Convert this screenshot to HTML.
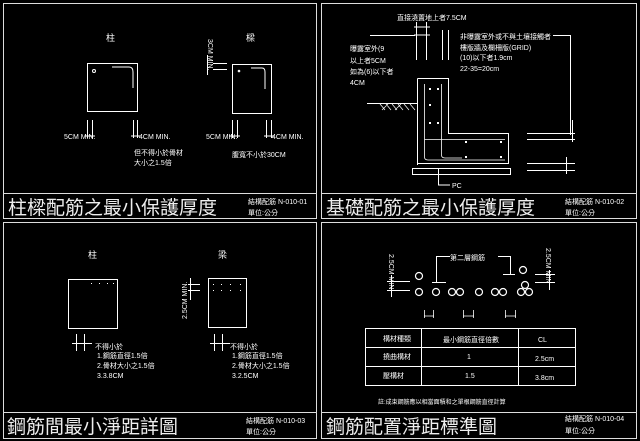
<!DOCTYPE html>
<html><head><meta charset="utf-8"><style>
html,body{margin:0;padding:0;background:#000;width:640px;height:441px;overflow:hidden}
svg{display:block}
text{fill:#fff;font-family:"Liberation Sans","Noto Sans CJK TC",sans-serif}
.t{font-size:19px;fill:#eee}
.s{font-size:7px}
.m{font-size:9px}
</style></head><body>
<svg width="640" height="441" viewBox="0 0 640 441" xmlns="http://www.w3.org/2000/svg">
<g fill="none" stroke="#ddd" stroke-width="1">
<rect x="3.5" y="3.5" width="313" height="215"/>
<rect x="321.5" y="3.5" width="315" height="215"/>
<rect x="3.5" y="222.5" width="313" height="216"/>
<rect x="321.5" y="222.5" width="315" height="216"/>
<line x1="4" y1="193.5" x2="316" y2="193.5"/>
<line x1="322" y1="193.5" x2="636" y2="193.5"/>
<line x1="4" y1="412.5" x2="316" y2="412.5"/>
<line x1="322" y1="412.5" x2="636" y2="412.5"/>
</g>
<g fill="none" stroke="#fff" stroke-width="1">
<rect x="87.5" y="63.5" width="50" height="48"/>
<path d="M112 67 H129 Q133 67 133 72 V88"/>
<circle cx="94" cy="71" r="1.5"/>
<path d="M87.5 120V138M92.5 120V138M133.5 120V138M137.5 120V138M85 136H95M131 136H140"/>
<rect x="232.5" y="64.5" width="39" height="49"/>
<path d="M251 68 H262 Q265 68 265 72 V89"/>
<circle cx="239" cy="71" r="0.8"/>
<path d="M213 63.5H227M213 69.5H227M207.5 55V75M232.5 120V138M237.5 120V138M266.5 120V138M271.5 120V138M229 136H240M264 136H274"/>
<path d="M417.5 78.5V165M417.5 78.5H448.5V133.5H508.5V163.5H417.5"/>
<rect x="412.5" y="168.5" width="98" height="6"/>
<path d="M438.5 168V185H450"/>
<path d="M367 103.5H417"/>
<path d="M380 104l5 6M386 104l5 6M392 104l5 6M398 104l5 6M404 104l5 6M410 104l5 6M382 110l6-6M395 110l6-6" stroke-width="0.7"/>
<path d="M424.5 84V157Q424.5 160 428 160H505M441.5 84V155Q441.5 158 445 158H462M424.5 139.5H505" stroke-width="0.8"/>
<path d="M370 35.5H415M416.5 22V60M426.5 22V60M442.5 30V60M448.5 30V60M553 35.5H570.5V135M414 27H430M414 35H430"/>
<path d="M527 133.5H575M527 139.5H575M572.5 120V142M527 163.5H575M527 170.5H575M566.5 157V174"/>
<rect x="68.5" y="279.5" width="49" height="49"/>
<path d="M76.5 334V351M84.5 334V351M72 343.5H92"/>
<rect x="208.5" y="278.5" width="38" height="49"/>
<path d="M188 284.5H200M188 290.5H200M190.5 278V300M214.5 334V351M222.5 334V351M210 343.5H230"/>
<path d="M436.5 282V256.5H450M498 256.5H510.5V274M432 282.5H446M503 274.5H515"/>
<path d="M387 281.5H410M387 290.5H410M391.5 275V297M535 274.5H555M535 282.5H555M549.5 270V290"/>
<path d="M424.5 310V318M433.5 310V318M424 316H434M463.5 310V318M473.5 310V318M463 316H474M505.5 310V318M515.5 310V318M505 316H516" stroke-width="0.8"/>
<rect x="365.5" y="328.5" width="210" height="57"/>
<path d="M421.5 328V386M518.5 328V386M366 347.5H575M366 366.5H575"/>
</g>
<g fill="#fff" stroke="none">
<rect x="91" y="283" width="1" height="1"/><rect x="99" y="283" width="1" height="1"/><rect x="107" y="283" width="1" height="1"/><rect x="113" y="283" width="1" height="1"/>
<rect x="213" y="284" width="1" height="1"/><rect x="221" y="284" width="1" height="1"/><rect x="230" y="284" width="1" height="1"/><rect x="240" y="284" width="1" height="1"/>
<rect x="213" y="290" width="1" height="1"/><rect x="221" y="290" width="1" height="1"/><rect x="230" y="290" width="1" height="1"/><rect x="240" y="290" width="1" height="1"/>
<rect x="429" y="88" width="2" height="2"/><rect x="429" y="104" width="2" height="2"/><rect x="429" y="122" width="2" height="2"/><rect x="437" y="88" width="2" height="2"/><rect x="437" y="122" width="2" height="2"/>
<rect x="465" y="141" width="2" height="2"/><rect x="500" y="141" width="2" height="2"/><rect x="465" y="156" width="2" height="2"/><rect x="500" y="156" width="2" height="2"/>
</g>
<g fill="none" stroke="#fff" stroke-width="1.2">
<circle cx="419" cy="276" r="3.5"/><circle cx="523" cy="270" r="3.5"/>
<circle cx="419" cy="292" r="3.5"/><circle cx="436" cy="292" r="3.5"/><circle cx="452" cy="292" r="3.5"/><circle cx="460" cy="292" r="3.5"/>
<circle cx="479" cy="292" r="3.5"/><circle cx="495" cy="292" r="3.5"/><circle cx="503" cy="292" r="3.5"/>
<circle cx="521" cy="292" r="3.5"/><circle cx="529" cy="292" r="3.5"/><circle cx="525" cy="285" r="3.5"/>
</g>
<text x="106" y="41" class="m">柱</text>
<text x="246" y="41" class="m">樑</text>
<text x="64" y="139" class="s">5CM MIN.</text>
<text x="139" y="139" class="s">4CM MIN.</text>
<text x="134" y="155" class="s">但不得小於骨材</text>
<text x="134" y="165" class="s">大小之1.5倍</text>
<text x="206" y="139" class="s">5CM MIN.</text>
<text x="272" y="139" class="s">4CM MIN.</text>
<text x="232" y="157" class="s">腹寬不小於30CM</text>
<text class="s" transform="translate(208,39) rotate(90)">3CM MIN.</text>
<text x="8" y="214" class="t">柱樑配筋之最小保護厚度</text>
<text x="248" y="204" class="s">結構配筋 N-010-01</text>
<text x="248" y="215" class="s">單位:公分</text>

<text x="397" y="20" class="s">直接澆置地上者7.5CM</text>
<text x="350" y="51" class="s">曝露室外(9</text>
<text x="350" y="63" class="s">以上者5CM</text>
<text x="350" y="74" class="s">如為(6)以下者</text>
<text x="350" y="85" class="s">4CM</text>
<text x="460" y="39" class="s">非曝露室外或不與土壤接觸者</text>
<text x="460" y="50" class="s">樓版牆及欄柵版(GRID)</text>
<text x="460" y="60" class="s">(10)以下者1.9cm</text>
<text x="460" y="71" class="s">22-35=20cm</text>
<text x="452" y="188" class="s">PC</text>
<text x="326" y="214" class="t">基礎配筋之最小保護厚度</text>
<text x="565" y="204" class="s">結構配筋 N-010-02</text>
<text x="565" y="215" class="s">單位:公分</text>

<text x="88" y="258" class="m">柱</text>
<text x="218" y="258" class="m">梁</text>
<text class="s" transform="translate(187,295) rotate(-90) translate(-24,0)">2.5CM MIN.</text>
<text x="95" y="349" class="s">不得小於</text>
<text x="97" y="358" class="s">1.鋼筋直徑1.5倍</text>
<text x="97" y="368" class="s">2.骨材大小之1.5倍</text>
<text x="97" y="378" class="s">3.3.8CM</text>
<text x="230" y="349" class="s">不得小於</text>
<text x="232" y="358" class="s">1.鋼筋直徑1.5倍</text>
<text x="232" y="368" class="s">2.骨材大小之1.5倍</text>
<text x="232" y="378" class="s">3.2.5CM</text>
<text x="7" y="433" class="t">鋼筋間最小淨距詳圖</text>
<text x="246" y="423" class="s">結構配筋 N-010-03</text>
<text x="246" y="434" class="s">單位:公分</text>

<text x="450" y="260" class="s">第二層鋼筋</text>
<text class="s" transform="translate(389,254) rotate(90)">2.5CM MIN</text>
<text class="s" transform="translate(546,248) rotate(90)">2.5CM MIN</text>
<text x="383" y="341" class="s">構材種類</text>
<text x="443" y="342" class="s">最小鋼筋直徑倍數</text>
<text x="538" y="342" class="s">CL</text>
<text x="383" y="359" class="s">撓曲構材</text>
<text x="467" y="359" class="s">1</text>
<text x="535" y="361" class="s">2.5cm</text>
<text x="383" y="378" class="s">壓構材</text>
<text x="465" y="378" class="s">1.5</text>
<text x="535" y="380" class="s">3.8cm</text>
<text x="378" y="404" style="font-size:6px">註:成束鋼筋應以相當面積和之單根鋼筋直徑計算</text>
<text x="326" y="433" class="t">鋼筋配置淨距標準圖</text>
<text x="565" y="421" class="s">結構配筋 N-010-04</text>
<text x="565" y="433" class="s">單位:公分</text>
</svg>
</body></html>
